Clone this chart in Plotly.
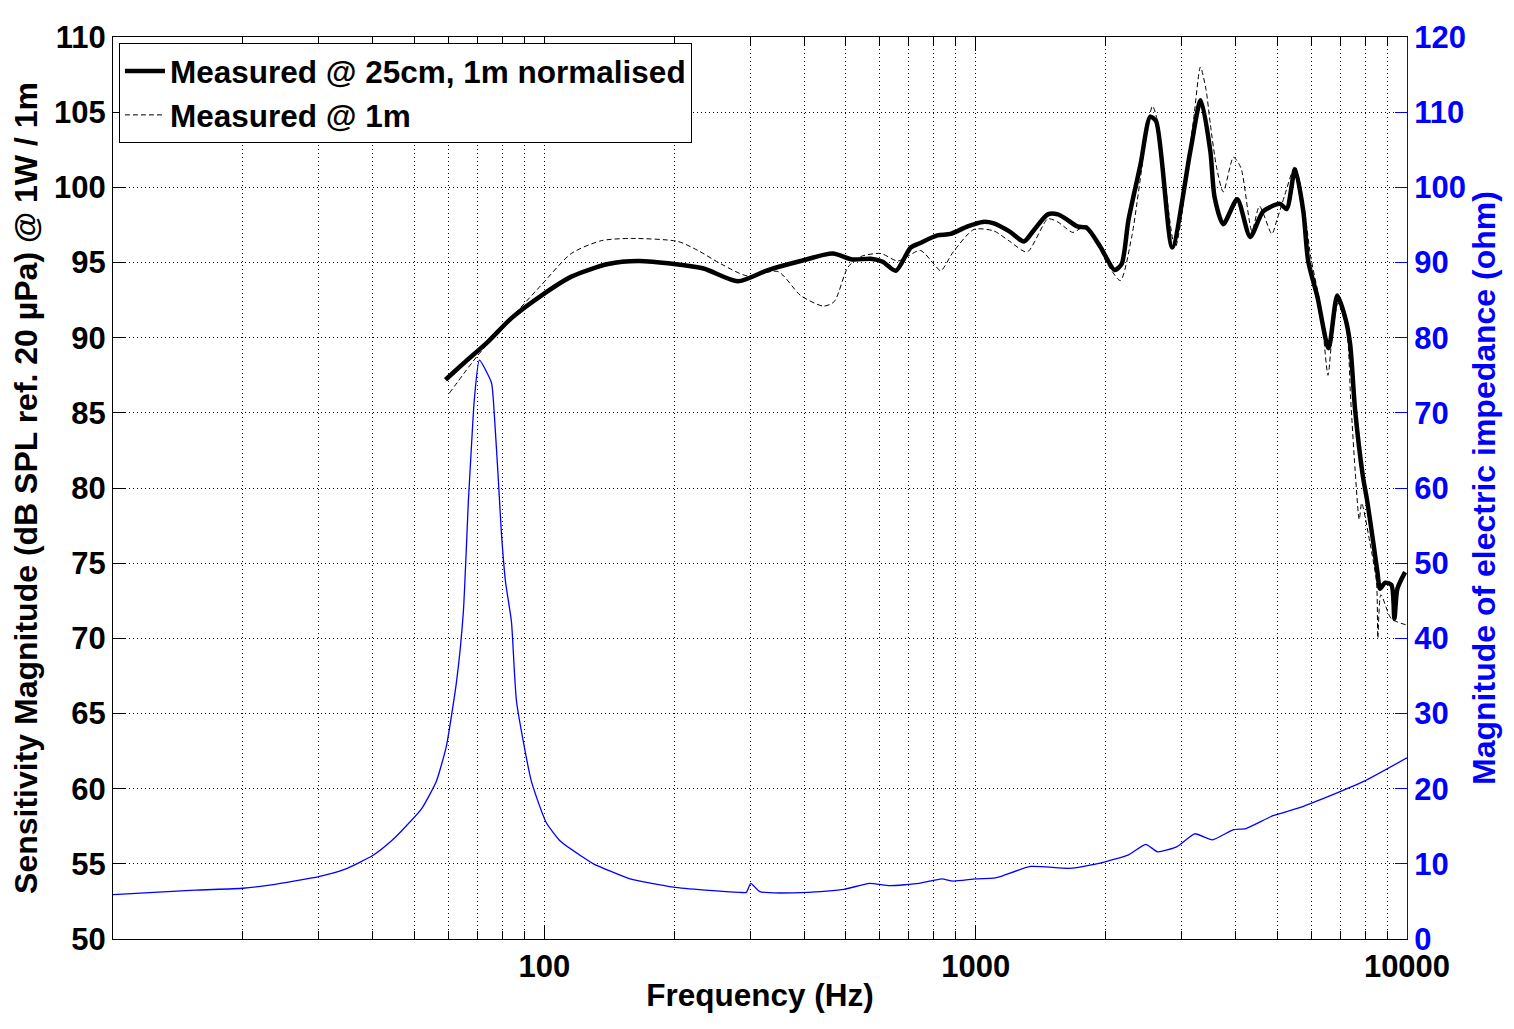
import plotly.graph_objects as go

# ---- Data ----
freq_25cm = [59.0, 65, 74.2, 83.9, 98.4, 115.5, 140.6, 165, 200, 234, 281, 330, 393, 466, 518,
             571, 609, 653, 707, 744, 815, 874, 958, 1039, 1102, 1200, 1294, 1360, 1470, 1550,
             1620, 1720, 1810, 1945, 2100, 2180, 2260, 2410, 2540, 2620, 2855, 3145, 3325, 3500,
             3580, 3750, 4040, 4330, 4640, 5080, 5260, 5500, 5750, 5900, 6200, 6580, 6890, 7180,
             7380, 7580, 7900, 8080, 8350, 8540, 8660, 8900, 9200, 9350, 9500, 9900]
spl_25cm = [87.2, 88.3, 89.76, 91.3, 92.8, 94.06, 94.9, 95.1, 94.9, 94.6, 93.75, 94.5, 95.1, 95.6, 95.2,
            95.25, 95.05, 94.45, 96.0, 96.3, 96.8, 96.9, 97.4, 97.7, 97.6, 97.05, 96.4, 97.1, 98.2, 98.2,
            97.9, 97.4, 97.3, 96.05, 94.5, 94.9, 97.8, 101.5, 104.7, 104.4, 96.0, 102.4, 105.8, 102.4,
            99.35, 97.55, 99.2, 96.7, 98.4, 98.9, 98.55, 101.2, 98.4, 95.1, 92.7, 89.3, 92.8, 91.4,
            89.6, 85.2, 80.8, 79.2, 76.4, 74.4, 73.3, 73.7, 73.55, 71.3, 73.3, 74.4]

freq_1m = [60.2, 70, 82.5, 98.4, 115.5, 135.5, 159, 204, 227, 257, 296, 348, 393, 444, 470,
           506, 542, 603, 660, 744, 800, 830, 887, 991, 1102, 1200, 1316, 1470, 1550, 1600,
           1680, 1810, 2020, 2165, 2300, 2570, 2640, 2900, 3200, 3320, 3420, 3500, 3620, 3750,
           3960, 4120, 4370, 4550, 4860, 4990, 5210, 5500, 5800, 5980, 6300, 6560, 6700, 6920,
           7250, 7400, 7580, 7750, 7850, 8200, 8500, 8560, 8700, 9200, 9950]
spl_1m = [86.3, 88.8, 91.1, 93.5, 95.6, 96.45, 96.6, 96.4, 95.8, 94.9, 94.1, 94.4, 92.8, 92.1, 92.4,
          94.7, 95.4, 95.6, 95.1, 95.8, 94.9, 94.45, 95.7, 97.2, 97.1, 96.4, 95.7, 97.9, 97.7, 97.4,
          97.0, 97.45, 94.9, 93.8, 96.7, 105.4, 104.4, 96.0, 104.5, 108.0, 106.5, 104.2, 101.3, 99.7,
          102.0, 101.3, 97.1, 98.75, 96.9, 97.8, 99.5, 101.4, 98.2, 95.4, 92.1, 87.5, 90.0, 92.3,
          90.5, 86.0, 81.2, 77.9, 79.0, 76.4, 73.7, 70.0, 72.9, 71.3, 70.9]

freq_imp = [10, 15.5, 20, 23.3, 30, 34.4, 40, 44.3, 46.7, 51.9, 56.2, 59.3, 62.6, 64.9, 66.7,
            67.7, 68.8, 70.7, 75.4, 76.6, 78.3, 79.5, 81.3, 83.9, 86.2, 93.3, 101, 109, 122, 130,
            158, 199, 236, 284, 294, 301, 316, 410, 495, 567, 632, 739, 835, 886, 1000, 1100,
            1140, 1340, 1650, 1945, 2260, 2480, 2640, 2930, 3220, 3540, 3960, 4230, 4890, 5660,
            6730, 7960, 10000]
imp_ohm = [5.9, 6.5, 6.75, 7.2, 8.3, 9.25, 11.1, 13.1, 14.4, 17.3, 21.0, 25.7, 34.3, 43.5, 58.5,
           65.1, 71.7, 77.0, 74.0, 69.6, 60.7, 54.1, 47.5, 42.2, 31.6, 21.0, 15.5, 13.0, 11.0, 10.0,
           8.0, 6.9, 6.5, 6.2, 6.2, 7.4, 6.3, 6.2, 6.6, 7.4, 7.1, 7.4, 8.0, 7.7, 8.0, 8.1,
           8.3, 9.65, 9.4, 10.1, 11.2, 12.6, 11.6, 12.3, 14.0, 13.2, 14.55, 14.7, 16.4, 17.5,
           19.2, 21.0, 24.1]

x_major_ticks = [10, 100, 1000, 10000]
x_major_labels = ["", "100", "1000", "10000"]
x_minor_ticks = [20, 30, 40, 50, 60, 70, 80, 90,
                 200, 300, 400, 500, 600, 700, 800, 900,
                 2000, 3000, 4000, 5000, 6000, 7000, 8000, 9000]

FONT = "Liberation Sans, Arial, Helvetica, sans-serif"
BLUE = "#0000ff"
GRID_DASH = "1px,3px"

fig = go.Figure()
fig.add_trace(go.Scatter(x=freq_25cm, y=spl_25cm, mode="lines", name="Measured @ 25cm, 1m normalised",
                         line=dict(color="black", width=4.5, shape="spline", smoothing=0.7)))
fig.add_trace(go.Scatter(x=freq_1m, y=spl_1m, mode="lines", name="Measured @ 1m",
                         line=dict(color="black", width=1, dash="5px,3px", shape="spline", smoothing=0.7)))
fig.add_trace(go.Scatter(x=freq_imp, y=imp_ohm, mode="lines", name="Impedance", yaxis="y2",
                         showlegend=False,
                         line=dict(color=BLUE, width=1.3, shape="spline", smoothing=0.5)))

fig.update_layout(
    width=1506, height=1021,
    margin=dict(l=105, r=107, t=24, b=90),
    paper_bgcolor="white", plot_bgcolor="white",
    font=dict(family=FONT, size=30, color="black", weight="bold"),
    showlegend=True,
    legend=dict(x=0.0046, y=0.9934, xanchor="left", yanchor="top",
                bgcolor="white", bordercolor="black", borderwidth=1,
                font=dict(family=FONT, size=31.5, color="black", weight="bold"),
                tracegroupgap=0, itemwidth=40),
    xaxis=dict(
        type="log", range=[1, 4],
        tickmode="array", tickvals=x_major_ticks, ticktext=x_major_labels,
        ticks="inside", ticklen=14, tickcolor="black", tickwidth=1,
        showline=True, linecolor="black", linewidth=1, mirror="ticks",
        showgrid=True, gridcolor="black", gridwidth=1, griddash=GRID_DASH,
        zeroline=False,
        tickfont=dict(family=FONT, size=31, color="black", weight="bold"),
        title=dict(text="Frequency (Hz)", standoff=0,
                   font=dict(family=FONT, size=31.5, color="black", weight="bold")),
        minor=dict(tickmode="array", tickvals=x_minor_ticks, ticks="inside", ticklen=8,
                   tickcolor="black", showgrid=True, gridcolor="black", gridwidth=1,
                   griddash=GRID_DASH),
    ),
    yaxis=dict(
        range=[50, 110], dtick=5, tick0=50,
        ticks="inside", ticklen=12, tickcolor="black",
        showline=True, linecolor="black", linewidth=1, mirror=False,
        showgrid=True, gridcolor="black", gridwidth=1, griddash=GRID_DASH,
        zeroline=False,
        tickfont=dict(family=FONT, size=31, color="black", weight="bold"),
        title=dict(text="Sensitivity Magnitude (dB SPL ref. 20 µPa) @ 1W / 1m", standoff=8,
                   font=dict(family=FONT, size=32, color="black", weight="bold")),
    ),
    yaxis2=dict(
        overlaying="y", side="right", range=[0, 120], dtick=10, tick0=0,
        ticks="inside", ticklen=12, tickcolor=BLUE,
        showline=True, linecolor=BLUE, linewidth=1,
        showgrid=False, zeroline=False,
        tickfont=dict(family=FONT, size=31, color=BLUE, weight="bold"),
        title=dict(text="Magnitude of electric impedance (ohm)", standoff=6,
                   font=dict(family=FONT, size=32, color=BLUE, weight="bold")),
    ),
)

fig.write_html("out.html")
